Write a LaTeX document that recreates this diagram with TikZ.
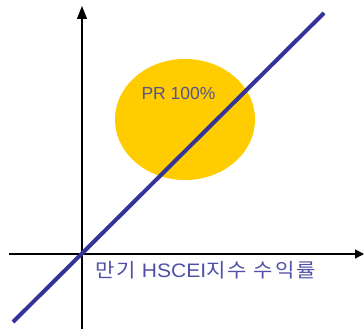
\documentclass[tikz,border=0pt]{standalone}
\usepackage{fontspec}
\setmainfont{Liberation Sans}
\newfontfamily\kr{Noto Sans CJK KR}[LetterSpace=10]
\usepackage{xcolor}
\usetikzlibrary{arrows.meta, positioning}

\definecolor{linecol}{HTML}{333399}
\definecolor{blobcol}{HTML}{FFCC00}
\definecolor{prcol}{HTML}{55558C}
\definecolor{labcol}{HTML}{5050A8}

\begin{document}
\begin{tikzpicture}[x=1pt, y=1pt]
			\useasboundingbox (-82, -75) rectangle (282, 254);
			
			% PR region
			\fill[blobcol] (103, 134.5) ellipse [x radius=70, y radius=60.5];
			\node[text=prcol, font=\fontsize{17.5}{19}\selectfont] (pr) at (96.5, 161) {PR 100\%};
			
			% Axes
			\coordinate (O) at (0, 0);
			\coordinate (xl) at (-73, 0);
			\coordinate (xr) at (282, 0);
			\coordinate (yb) at (0, -75);
			\coordinate (yt) at (0, 248);
			\draw[line width=1.3pt, -{Triangle[length=9pt, width=9pt]}] (xl) -- (xr);
			\draw[line width=1.3pt, -{Triangle[length=13pt, width=10pt]}] (yb) -- (yt);
			
			% Payoff line
			\coordinate (pl) at (-69, -68);
			\coordinate (pu) at (242, 241);
			\draw[linecol, line width=4pt] (pl) -- (pu);
			
			% Label
			\node[anchor=west, text=labcol, inner sep=0pt, font=\fontsize{19.5}{21}\selectfont] (ret) at (13, -16) {\scalebox{1.08}[1]{{\kr 만기} HSCEI{\kr 지수 수익률}}};
		\end{tikzpicture}
\end{document}
